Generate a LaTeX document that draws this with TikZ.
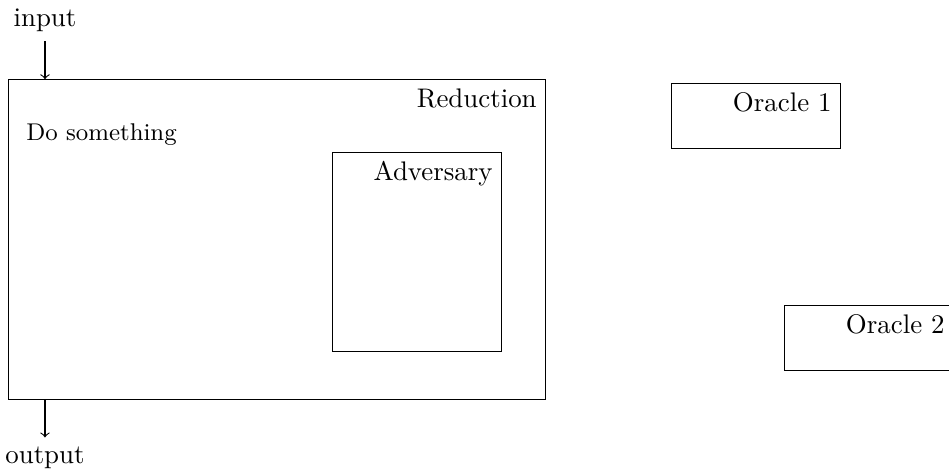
\documentclass[tikz,border=0pt]{standalone}
\usepackage{tikz}
\usetikzlibrary{positioning}

\begin{document}
\begin{tikzpicture}
        \useasboundingbox (0,0) rectangle (12.405,6.144);
        \tikzset{box/.style={draw, minimum width=2.21cm, anchor=south west, inner sep=0pt}}

        \node[box, minimum width=7.02cm, minimum height=4.18cm] (R) at (0.105,0.915) {};
        \node[box, minimum height=2.6cm] (A) at (4.34,1.542) {};
        \node[box, minimum height=0.85cm] (O1) at (8.771,4.196) {};
        \node[box, minimum height=0.85cm] (O2) at (10.248,1.294) {};

        \node[anchor=north east] (RL) at (R.north east) {Reduction};
        \node[anchor=north east] (AL) at (A.north east) {Adversary};
        \node[anchor=north east] (O1L) at (O1.north east) {Oracle 1};
        \node[anchor=north east] (O2L) at (O2.north east) {Oracle 2};
        \node[anchor=west, font=\small] (D) at (0.22,4.38) {Do something};

        \node (I) at (0.588,5.88) {input};
        \node (O) at (0.588,0.16) {output};

        \draw [->] (I) -- (I |- R.north);
        \draw [->] (O |- R.south) -- (O);
      \end{tikzpicture}
\end{document}
